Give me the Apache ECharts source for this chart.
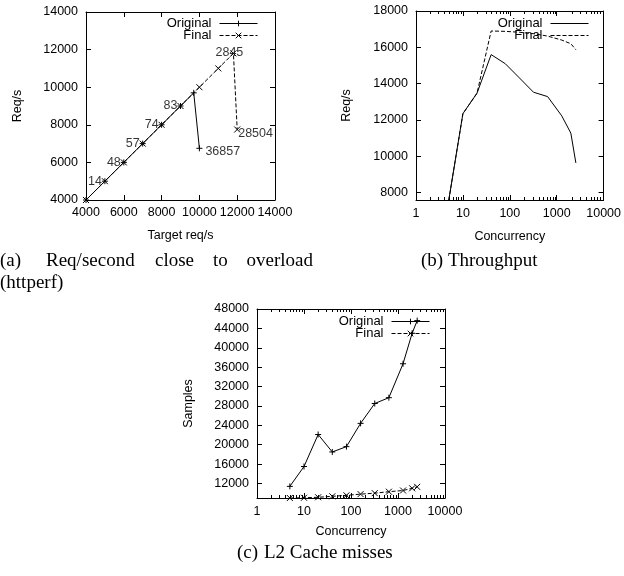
<!DOCTYPE html>
<html><head><meta charset="utf-8">
<script src="https://cdn.jsdelivr.net/npm/echarts@6/dist/echarts.min.js"></script>
<style>html,body{margin:0;padding:0;background:#fff}#c{width:624px;height:576px}</style>
</head><body><div id="c"></div>
<script>
// ---------- (a) Req/second close to overload ----------
const aOrigX  = [4000, 5000, 6000, 7000, 8000, 9000, 9700, 10000];
const aOrigY  = [4000, 5000, 6000, 7000, 8000, 9000, 9700, 6750];
const aFinalX = [4000, 5000, 6000, 7000, 8000, 9000, 10000, 11000, 11800, 12000];
const aFinalY = [4000, 5000, 6000, 7000, 8000, 9000, 10000, 11000, 11800, 7750];
const aLabelX = [5000, 6000, 7000, 8000, 9000, 11800, 10000, 12000];
const aLabelY = [5000, 6000, 7000, 8000, 9000, 11800, 6750, 7750];
const aLabelText = ['14', '48', '57', '74', '83', '2845', '36857', '28504'];

// ---------- shared concurrency levels ----------
const concurrency = [5, 10, 20, 40, 80, 160, 320, 640, 1280, 2000, 2560];
const logMajor = [1, 10, 100, 1000, 10000];
const logMinor = [2,3,4,5,6,7,8,9, 20,30,40,50,60,70,80,90, 200,300,400,500,600,700,800,900, 2000,3000,4000,5000,6000,7000,8000,9000];

// ---------- (b) Throughput ----------
const bOriginal = [7600, 12350, 13480, 15600, 15100, 14320, 13530, 13290, 12230, 11280, 9640];
const bFinal    = [7600, 12350, 13480, 16900, 16880, 16830, 16750, 16620, 16400, 16200, 15870];
const bTicks = [8000, 10000, 12000, 14000, 16000, 18000];

// ---------- (c) L2 Cache misses ----------
const cOriginal = [11400, 15500, 22100, 18500, 19600, 24400, 28500, 29700, 36700, 43000, 45600];
const cFinal    = [9000, 9050, 9150, 9350, 9550, 9800, 10000, 10300, 10550, 11000, 11300];
const cTicks = [12000, 16000, 20000, 24000, 28000, 32000, 36000, 40000, 44000, 48000];

const FONT = '"Liberation Sans", Arial, Helvetica, sans-serif';
const SERIF = '"Liberation Serif", "Times New Roman", Times, serif';
const PLUS = 'path://M0,5L10,5M5,0L5,10';
const CROSS = 'path://M0,0L10,10M10,0L0,10';
const fmt = v => String(v);

function axisBase(extra) {
  return Object.assign({
    axisLine: {show: true, onZero: false, lineStyle: {color: '#000', width: 1}},
    axisTick: {show: true, inside: true, length: 5, lineStyle: {color: '#000', width: 1}},
    axisLabel: {show: false},
    splitLine: {show: false},
    minorTick: {show: false},
    minorSplitLine: {show: false}
  }, extra);
}
function labelStyle(margin) {
  return {show: true, color: '#000', fontFamily: FONT, fontSize: 12.5, margin: margin, formatter: fmt, showMinLabel: true, showMaxLabel: true};
}
function yName(name, gap) {
  return {name: name, nameLocation: 'middle', nameGap: gap, nameRotate: 90,
          nameTextStyle: {color: '#000', fontFamily: FONT, fontSize: 12.5}};
}
function xName(name, gap) {
  return {name: name, nameLocation: 'middle', nameGap: gap,
          nameTextStyle: {color: '#000', fontFamily: FONT, fontSize: 12.5}};
}
// major log axis (carries the data)
function logX(grid, pos, withLabels, nameOpts) {
  const o = axisBase({type: 'log', logBase: 10, min: 1, max: 10000, gridIndex: grid, position: pos});
  if (withLabels) o.axisLabel = Object.assign(labelStyle(7), {customValues: logMajor});
  return Object.assign(o, nameOpts || {});
}
// minor tick decoration (decades in exponent space)
function minorX(grid, pos) {
  return {type: 'value', min: 0, max: 4, gridIndex: grid, position: pos,
    axisLine: {show: false}, axisLabel: {show: false}, splitLine: {show: false},
    axisTick: {show: true, inside: true, length: 3, customValues: logMinor.map(v => Math.log10(v)), lineStyle: {color: '#000', width: 1}}};
}

const grids = [
  {left: 86, top: 12, width: 189, height: 188},
  {left: 416, top: 11, width: 189, height: 189},
  {left: 257, top: 309, width: 188, height: 189},
  {left: 416, top: 11, width: 189, height: 189},
  {left: 257, top: 309, width: 188, height: 189}
];

const xAxis = [
  axisBase(Object.assign({type: 'value', gridIndex: 0, position: 'bottom', min: 4000, max: 14000, interval: 2000, axisLabel: labelStyle(6)}, xName('Target req/s', 29))),
  axisBase({type: 'value', gridIndex: 0, position: 'top', min: 4000, max: 14000, interval: 2000}),
  logX(1, 'bottom', true, xName('Concurrency', 30)),
  logX(1, 'top', false),
  logX(2, 'bottom', true, xName('Concurrency', 27)),
  logX(2, 'top', false),
  minorX(3, 'bottom'),
  minorX(3, 'top'),
  minorX(4, 'bottom'),
  minorX(4, 'top')
];

const yAxis = [
  axisBase(Object.assign({type: 'value', gridIndex: 0, position: 'left', min: 4000, max: 14000, interval: 2000, axisLabel: labelStyle(8)}, yName('Req/s', 62))),
  axisBase({type: 'value', gridIndex: 0, position: 'right', min: 4000, max: 14000, interval: 2000}),
  axisBase(Object.assign({type: 'value', gridIndex: 1, position: 'left', min: 7600, max: 18000,
    axisLabel: Object.assign(labelStyle(8), {customValues: bTicks}),
    axisTick: {show: true, inside: true, length: 5, customValues: bTicks, lineStyle: {color: '#000'}}}, yName('Req/s', 63))),
  axisBase({type: 'value', gridIndex: 1, position: 'right', min: 7600, max: 18000,
    axisTick: {show: true, inside: true, length: 5, customValues: bTicks, lineStyle: {color: '#000'}}}),
  axisBase(Object.assign({type: 'value', gridIndex: 2, position: 'left', min: 9000, max: 48000,
    axisLabel: Object.assign(labelStyle(8), {customValues: cTicks}),
    axisTick: {show: true, inside: true, length: 5, customValues: cTicks, lineStyle: {color: '#000'}}}, yName('Samples', 62))),
  axisBase({type: 'value', gridIndex: 2, position: 'right', min: 9000, max: 48000,
    axisTick: {show: true, inside: true, length: 5, customValues: cTicks, lineStyle: {color: '#000'}}}),
  {type: 'value', gridIndex: 3, show: false, min: 0, max: 1},
  {type: 'value', gridIndex: 4, show: false, min: 0, max: 1}
];

const solid = {color: '#000', width: 1, type: 'solid'};
const dashed = {color: '#000', width: 1, type: [4, 2]};
const mark = {color: '#000', borderColor: '#000', borderWidth: 1};

function lineSeries(name, xi, yi, data, dash, symbol) {
  return {
    name: name, type: 'line', xAxisIndex: xi, yAxisIndex: yi, data: data,
    lineStyle: dash ? dashed : solid, itemStyle: mark,
    symbol: symbol || 'none', symbolSize: 6, showSymbol: !!symbol, showAllSymbol: true,
    clip: true, animation: false, silent: true, z: dash ? 3 : 4
  };
}
const pairs = (xs, ys) => xs.map((x, i) => [x, ys[i]]);

// label placement (style only)
function labelPlacement(i) {
  if (i < 5) return {position: 'left', distance: 3};
  if (i === 5) return {position: 'inside', offset: [-4, -1]};
  if (i === 6) return {position: 'right', distance: 6, offset: [0, 3]};
  return {position: 'right', distance: 1, offset: [0, 4]};
}
const labelData = aLabelText.map((t, i) => ({
  value: [aLabelX[i], aLabelY[i]],
  label: Object.assign({show: true, formatter: t, color: '#000', fontFamily: FONT, fontSize: 12.5}, labelPlacement(i))
}));

const series = [
  lineSeries('Original|a', 0, 0, pairs(aOrigX, aOrigY), false, PLUS),
  lineSeries('Final|a', 0, 0, pairs(aFinalX, aFinalY), true, CROSS),
  {type: 'scatter', xAxisIndex: 0, yAxisIndex: 0, symbolSize: 0, data: labelData, silent: true, animation: false, z: 5},
  lineSeries('Original|b', 2, 2, pairs(concurrency, bOriginal), false, null),
  lineSeries('Final|b', 2, 2, pairs(concurrency, bFinal), true, null),
  lineSeries('Original|c', 4, 4, pairs(concurrency, cOriginal), false, PLUS),
  lineSeries('Final|c', 4, 4, pairs(concurrency, cFinal), true, CROSS)
];

function legend(tag, right, top, noMarker) {
  return {
    data: ['Original|' + tag, 'Final|' + tag], orient: 'vertical', align: 'right',
    right: right, top: top, itemWidth: 38, itemHeight: 7, itemGap: -1, padding: 0,
    selectedMode: false, formatter: n => n.split('|')[0],
    lineStyle: {width: 1},
    itemStyle: noMarker ? {color: 'rgba(0,0,0,0)', borderColor: 'rgba(0,0,0,0)', borderWidth: 0}
                        : {borderWidth: 1},
    textStyle: {color: '#000', fontFamily: FONT, fontSize: 13, lineHeight: 11, padding: [0, 3, 0, 0]}
  };
}

function txt(s, x, y, align) {
  return {type: 'text', x: x, y: y,
    style: {text: s, fill: '#000', font: '19px ' + SERIF, textAlign: align || 'left', textVerticalAlign: 'middle'}};
}

const option = {
  animation: false,
  backgroundColor: '#fff',
  grid: grids,
  xAxis: xAxis,
  yAxis: yAxis,
  legend: [legend('a', 366, 17), legend('b', 35, 17, true), legend('c', 194, 315)],
  series: series,
  graphic: [
    txt('(a)', 0, 261), txt('Req/second', 46, 261), txt('close', 155, 261), txt('to', 213, 261), txt('overload', 313, 261, 'right'),
    txt('(httperf)', 0, 283),
    txt('(b) Throughput', 421, 261),
    txt('(c)', 237, 553), txt('L2 Cache misses', 264, 553)
  ]
};

const chart = echarts.init(document.getElementById('c'), null, {renderer: 'canvas'});
chart.setOption(option);
</script>
</body></html>
